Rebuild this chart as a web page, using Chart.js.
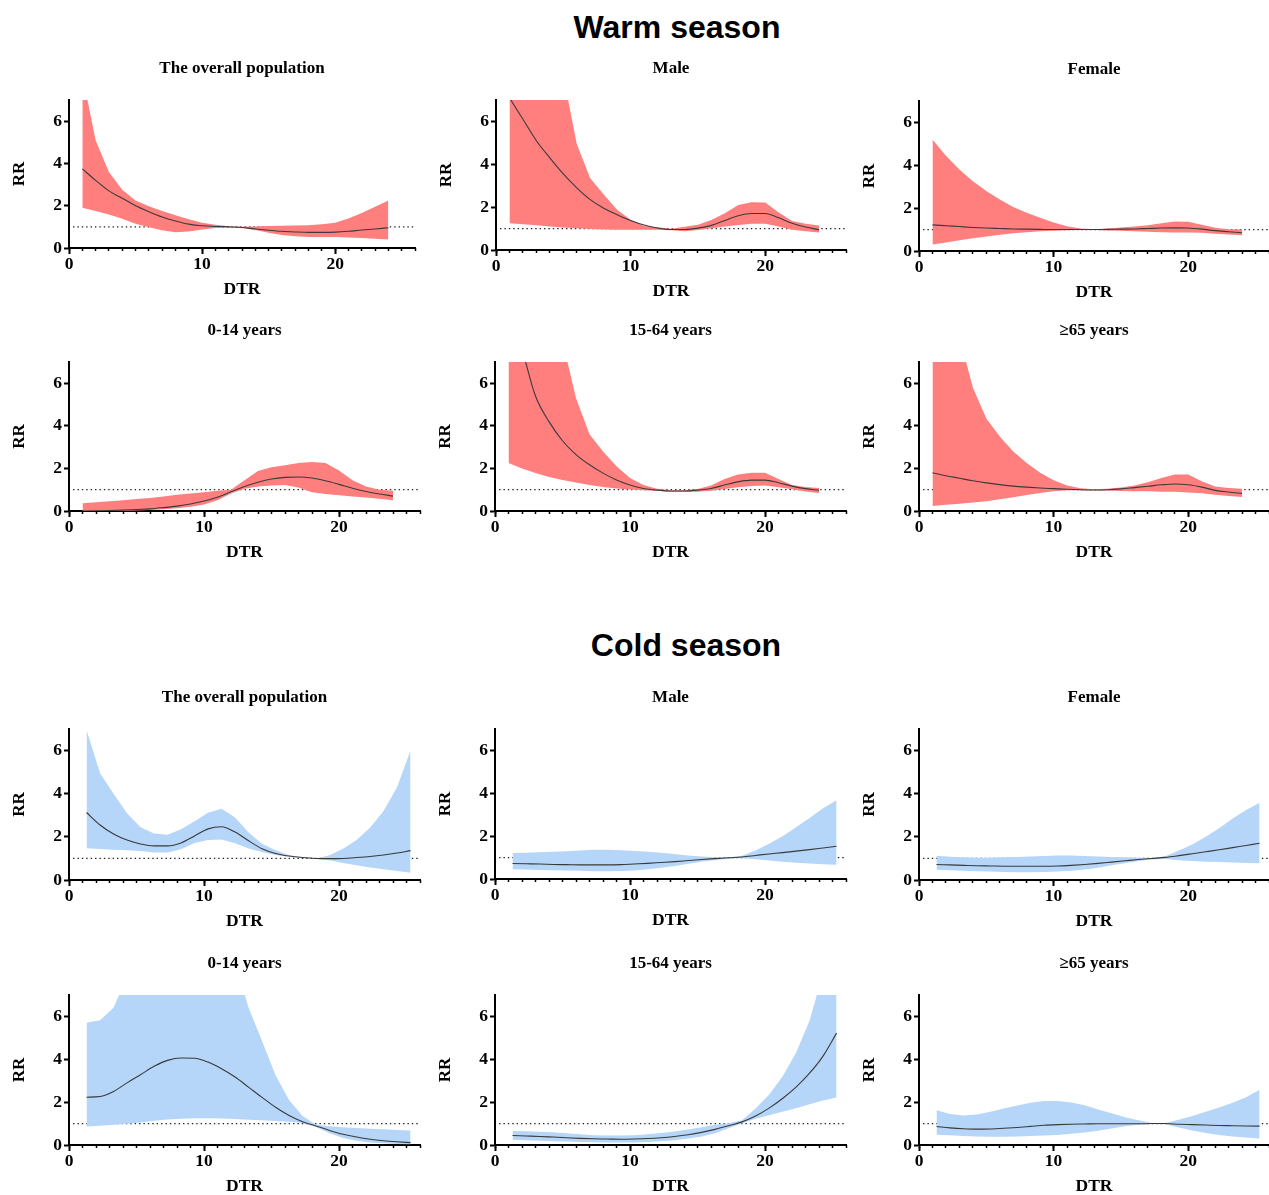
<!DOCTYPE html>
<html>
<head>
<meta charset="utf-8">
<script src="https://cdn.jsdelivr.net/npm/chart.js@4.4.0/dist/chart.umd.min.js"></script>
<style>
  html, body { margin: 0; padding: 0; background: #fff; }
  body { position: relative; width: 1269px; height: 1195px; overflow: hidden; }
  .season { position: absolute; width: 400px; text-align: center; font: bold 32px 'Liberation Sans', Arial, sans-serif; line-height: 38px; color: #000; }
  canvas { position: absolute; }
</style>
</head>
<body>
<div class="season" style="left:477px;top:8px">Warm season</div>
<div class="season" style="left:486px;top:626px">Cold season</div>
<script>
// DTR values where the curves were evaluated
const X_WARM = [1, 2, 3, 4, 5, 6, 7, 8, 9, 10, 11, 12, 13, 14, 15, 16, 17, 18, 19, 20, 21, 22, 23, 24];
const X_COLD = [1.3, 2.3, 3.3, 4.3, 5.3, 6.3, 7.3, 8.3, 9.3, 10.3, 11.3, 12.3, 13.3, 14.3, 15.3, 16.3, 17.3, 18.3, 19.3, 20.3, 21.3, 22.3, 23.3, 24.3, 25.3];
const X_TICKS = [0, 10, 20];
const X_MINOR = [0, 1, 2, 3, 4, 5, 6, 7, 8, 9, 10, 11, 12, 13, 14, 15, 16, 17, 18, 19, 20, 21, 22, 23, 24, 25, 26];
const Y_TICKS = [0, 2, 4, 6];
const REF_X = [0.3, 26];
const REF_Y = [1, 1];

// warm season
const WARM_ALL_RR = [3.74, 3.2, 2.7, 2.35, 2.0, 1.72, 1.47, 1.28, 1.13, 1.05, 1.02, 1.0, 0.97, 0.9, 0.84, 0.79, 0.76, 0.74, 0.74, 0.75, 0.79, 0.85, 0.9, 0.96];
const WARM_ALL_HI = [8.2, 5.1, 3.6, 2.75, 2.25, 1.97, 1.75, 1.55, 1.36, 1.2, 1.1, 1.03, 1.0, 1.02, 1.04, 1.05, 1.06, 1.08, 1.12, 1.2, 1.4, 1.66, 1.95, 2.25];
const WARM_ALL_LO = [1.9, 1.75, 1.58, 1.38, 1.15, 0.98, 0.84, 0.75, 0.78, 0.88, 0.95, 0.99, 0.95, 0.85, 0.72, 0.62, 0.56, 0.52, 0.52, 0.52, 0.5, 0.47, 0.44, 0.4];

const WARM_MALE_RR = [7.1, 6.1, 5.1, 4.3, 3.55, 2.9, 2.35, 1.95, 1.65, 1.38, 1.17, 1.03, 0.96, 0.96, 1.02, 1.15, 1.38, 1.6, 1.7, 1.7, 1.5, 1.25, 1.07, 0.95];
const WARM_MALE_HI = [25, 17, 13, 10, 8.15, 4.95, 3.35, 2.59, 1.88, 1.41, 1.12, 1.06, 0.99, 1.08, 1.18, 1.4, 1.72, 2.1, 2.23, 2.22, 1.75, 1.35, 1.22, 1.14];
const WARM_MALE_LO = [1.25, 1.2, 1.15, 1.1, 1.05, 1.01, 0.98, 0.96, 0.95, 0.95, 0.95, 0.95, 0.92, 0.87, 0.93, 1.02, 1.1, 1.17, 1.22, 1.22, 1.1, 0.95, 0.88, 0.82];

const WARM_FEMALE_RR = [1.22, 1.18, 1.14, 1.1, 1.07, 1.05, 1.03, 1.02, 1.01, 1.0, 1.0, 1.0, 1.0, 1.01, 1.02, 1.03, 1.05, 1.07, 1.08, 1.07, 1.02, 0.95, 0.9, 0.85];
const WARM_FEMALE_HI = [5.2, 4.45, 3.8, 3.25, 2.8, 2.4, 2.05, 1.78, 1.55, 1.33, 1.15, 1.05, 1.01, 1.05, 1.1, 1.14, 1.2, 1.3, 1.38, 1.36, 1.22, 1.08, 1.02, 1.0];
const WARM_FEMALE_LO = [0.3, 0.4, 0.5, 0.6, 0.68, 0.76, 0.83, 0.88, 0.92, 0.95, 0.97, 0.99, 0.98, 0.96, 0.94, 0.92, 0.9, 0.87, 0.86, 0.86, 0.85, 0.8, 0.77, 0.74];

const WARM_0_14_RR = [0.0, 0.01, 0.02, 0.04, 0.07, 0.1, 0.16, 0.23, 0.33, 0.47, 0.65, 0.9, 1.15, 1.35, 1.5, 1.58, 1.6, 1.55, 1.42, 1.25, 1.07, 0.92, 0.8, 0.7];
const WARM_0_14_HI = [0.36, 0.41, 0.46, 0.51, 0.56, 0.61, 0.68, 0.76, 0.82, 0.88, 0.95, 1.0, 1.45, 1.88, 2.05, 2.15, 2.25, 2.3, 2.25, 1.9, 1.45, 1.15, 1.0, 0.95];
const WARM_0_14_LO = [0.0, 0.0, 0.0, 0.0, 0.02, 0.05, 0.08, 0.13, 0.2, 0.3, 0.5, 0.82, 1.05, 1.15, 1.2, 1.22, 1.1, 0.88, 0.8, 0.74, 0.68, 0.63, 0.57, 0.5];

const WARM_15_64_RR = [9.5, 7.6, 5.4, 4.2, 3.3, 2.65, 2.17, 1.78, 1.46, 1.22, 1.06, 0.98, 0.94, 0.94, 0.98, 1.06, 1.22, 1.37, 1.45, 1.45, 1.33, 1.17, 1.05, 0.97];
const WARM_15_64_HI = [30, 20, 14, 10.5, 8.0, 5.3, 3.6, 2.8, 2.1, 1.55, 1.22, 1.04, 0.98, 0.98, 1.03, 1.2, 1.5, 1.72, 1.8, 1.8, 1.5, 1.22, 1.13, 1.08];
const WARM_15_64_LO = [2.25, 2.0, 1.78, 1.6, 1.46, 1.34, 1.22, 1.13, 1.06, 1.01, 0.98, 0.95, 0.91, 0.9, 0.9, 0.95, 1.03, 1.12, 1.18, 1.2, 1.12, 1.02, 0.92, 0.84];

const WARM_65_RR = [1.8, 1.66, 1.54, 1.42, 1.32, 1.24, 1.17, 1.12, 1.08, 1.05, 1.02, 1.0, 0.99, 1.0, 1.04, 1.1, 1.16, 1.23, 1.27, 1.23, 1.12, 0.97, 0.89, 0.83];
const WARM_65_HI = [14, 10.5, 8.2, 5.8, 4.35, 3.5, 2.8, 2.25, 1.8, 1.45, 1.2, 1.07, 1.02, 1.05, 1.1, 1.2, 1.35, 1.55, 1.72, 1.72, 1.4, 1.15, 1.08, 1.05];
const WARM_65_LO = [0.24, 0.29, 0.34, 0.4, 0.46, 0.55, 0.65, 0.75, 0.85, 0.93, 0.98, 0.98, 0.97, 0.96, 0.94, 0.93, 0.93, 0.91, 0.9, 0.87, 0.83, 0.76, 0.71, 0.66];

// cold season
const COLD_ALL_RR = [3.13, 2.55, 2.13, 1.85, 1.67, 1.58, 1.58, 1.72, 2.04, 2.37, 2.47, 2.22, 1.82, 1.45, 1.23, 1.11, 1.04, 1.0, 0.99, 1.0, 1.04, 1.09, 1.16, 1.25, 1.36];
const COLD_ALL_HI = [6.95, 4.95, 4.0, 3.1, 2.45, 2.15, 2.1, 2.35, 2.72, 3.12, 3.3, 2.9, 2.2, 1.68, 1.38, 1.15, 1.04, 1.0, 1.15, 1.45, 1.85, 2.42, 3.2, 4.3, 6.0];
const COLD_ALL_LO = [1.47, 1.44, 1.4, 1.38, 1.35, 1.27, 1.27, 1.42, 1.72, 1.86, 1.88, 1.7, 1.46, 1.3, 1.16, 1.08, 1.03, 0.99, 0.91, 0.79, 0.68, 0.58, 0.5, 0.42, 0.34];

const COLD_MALE_RR = [0.72, 0.71, 0.7, 0.68, 0.67, 0.66, 0.66, 0.66, 0.67, 0.7, 0.73, 0.77, 0.81, 0.86, 0.91, 0.95, 0.99, 1.03, 1.1, 1.17, 1.23, 1.3, 1.37, 1.45, 1.53];
const COLD_MALE_HI = [1.21, 1.23, 1.25, 1.27, 1.3, 1.33, 1.36, 1.36, 1.34, 1.31, 1.27, 1.22, 1.17, 1.1, 1.05, 1.01, 1.0, 1.08, 1.33, 1.65, 2.0, 2.42, 2.85, 3.3, 3.68];
const COLD_MALE_LO = [0.46, 0.44, 0.42, 0.41, 0.4, 0.38, 0.36, 0.36, 0.37, 0.4, 0.45, 0.53, 0.61, 0.71, 0.8, 0.89, 0.95, 0.98, 0.92, 0.86, 0.8, 0.76, 0.72, 0.69, 0.66];

const COLD_FEMALE_RR = [0.72, 0.7, 0.68, 0.66, 0.65, 0.64, 0.64, 0.64, 0.64, 0.65, 0.68, 0.72, 0.77, 0.83, 0.89, 0.95, 1.0, 1.05, 1.13, 1.22, 1.31, 1.4, 1.5, 1.6, 1.7];
const COLD_FEMALE_HI = [1.12, 1.08, 1.05, 1.03, 1.03, 1.05, 1.07, 1.09, 1.11, 1.13, 1.13, 1.11, 1.09, 1.07, 1.05, 1.03, 1.01, 1.1, 1.37, 1.65, 2.0, 2.4, 2.85, 3.25, 3.58];
const COLD_FEMALE_LO = [0.47, 0.45, 0.43, 0.41, 0.39, 0.37, 0.36, 0.36, 0.37, 0.39, 0.43, 0.49, 0.57, 0.68, 0.78, 0.88, 0.95, 0.97, 0.92, 0.88, 0.85, 0.83, 0.81, 0.79, 0.78];

const COLD_0_14_RR = [2.23, 2.26, 2.5, 2.9, 3.28, 3.67, 3.95, 4.06, 4.05, 3.87, 3.56, 3.17, 2.7, 2.22, 1.76, 1.38, 1.09, 0.89, 0.68, 0.5, 0.37, 0.27, 0.2, 0.15, 0.11];
const COLD_0_14_HI = [5.7, 5.82, 6.4, 7.85, 9.5, 10.5, 11, 11.5, 11.5, 11, 10, 8.6, 6.4, 4.85, 3.25, 2.1, 1.35, 0.95, 0.88, 0.83, 0.79, 0.76, 0.73, 0.7, 0.68];
const COLD_0_14_LO = [0.86, 0.9, 0.94, 0.99, 1.05, 1.13, 1.19, 1.23, 1.25, 1.25, 1.24, 1.21, 1.18, 1.15, 1.12, 1.08, 1.03, 0.84, 0.55, 0.33, 0.2, 0.12, 0.08, 0.05, 0.04];

const COLD_15_64_RR = [0.44, 0.42, 0.4, 0.37, 0.34, 0.31, 0.29, 0.28, 0.27, 0.28, 0.3, 0.34, 0.4, 0.48, 0.59, 0.73, 0.9, 1.08, 1.35, 1.72, 2.17, 2.7, 3.35, 4.15, 5.22];
const COLD_15_64_HI = [0.65, 0.64, 0.62, 0.59, 0.55, 0.5, 0.46, 0.44, 0.44, 0.46, 0.5, 0.56, 0.63, 0.72, 0.83, 0.95, 1.02, 1.15, 1.7, 2.35, 3.2, 4.3, 5.8, 8.0, 10.5];
const COLD_15_64_LO = [0.24, 0.22, 0.2, 0.18, 0.16, 0.14, 0.13, 0.12, 0.12, 0.12, 0.14, 0.17, 0.22, 0.3, 0.4, 0.55, 0.78, 1.02, 1.23, 1.39, 1.55, 1.72, 1.9, 2.08, 2.22];

const COLD_65_RR = [0.86, 0.8, 0.76, 0.74, 0.75, 0.78, 0.82, 0.87, 0.92, 0.95, 0.97, 0.98, 0.99, 0.99, 0.99, 0.99, 1.0, 1.0, 0.97, 0.95, 0.93, 0.91, 0.9, 0.89, 0.88];
const COLD_65_HI = [1.62, 1.45, 1.38, 1.42, 1.55, 1.7, 1.84, 1.97, 2.05, 2.05, 1.98, 1.85, 1.66, 1.48, 1.3, 1.15, 1.03, 1.03, 1.18, 1.35, 1.55, 1.75, 1.97, 2.23, 2.58];
const COLD_65_LO = [0.48, 0.45, 0.42, 0.4, 0.39, 0.39, 0.4, 0.42, 0.44, 0.47, 0.52, 0.58, 0.67, 0.77, 0.87, 0.95, 0.99, 0.97, 0.82, 0.68, 0.56, 0.47, 0.4, 0.35, 0.3];

const WARM_FILL = '#FF7F7F';
const COLD_FILL = '#B5D5F9';
const LINE = '#3a3a3a';

const PANELS = [
  { title: 'The overall population', x: X_WARM, rr: WARM_ALL_RR, hi: WARM_ALL_HI, lo: WARM_ALL_LO, fill: WARM_FILL },
  { title: 'Male', x: X_WARM, rr: WARM_MALE_RR, hi: WARM_MALE_HI, lo: WARM_MALE_LO, fill: WARM_FILL },
  { title: 'Female', x: X_WARM, rr: WARM_FEMALE_RR, hi: WARM_FEMALE_HI, lo: WARM_FEMALE_LO, fill: WARM_FILL },
  { title: '0-14 years', x: X_WARM, rr: WARM_0_14_RR, hi: WARM_0_14_HI, lo: WARM_0_14_LO, fill: WARM_FILL },
  { title: '15-64 years', x: X_WARM, rr: WARM_15_64_RR, hi: WARM_15_64_HI, lo: WARM_15_64_LO, fill: WARM_FILL },
  { title: '≥65 years', x: X_WARM, rr: WARM_65_RR, hi: WARM_65_HI, lo: WARM_65_LO, fill: WARM_FILL },
  { title: 'The overall population', x: X_COLD, rr: COLD_ALL_RR, hi: COLD_ALL_HI, lo: COLD_ALL_LO, fill: COLD_FILL },
  { title: 'Male', x: X_COLD, rr: COLD_MALE_RR, hi: COLD_MALE_HI, lo: COLD_MALE_LO, fill: COLD_FILL },
  { title: 'Female', x: X_COLD, rr: COLD_FEMALE_RR, hi: COLD_FEMALE_HI, lo: COLD_FEMALE_LO, fill: COLD_FILL },
  { title: '0-14 years', x: X_COLD, rr: COLD_0_14_RR, hi: COLD_0_14_HI, lo: COLD_0_14_LO, fill: COLD_FILL },
  { title: '15-64 years', x: X_COLD, rr: COLD_15_64_RR, hi: COLD_15_64_HI, lo: COLD_15_64_LO, fill: COLD_FILL },
  { title: '≥65 years', x: X_COLD, rr: COLD_65_RR, hi: COLD_65_HI, lo: COLD_65_LO, fill: COLD_FILL },
];

// plot frames on the page: [y-axis x, x-axis right end, top of plot, bottom of plot]
const FRAMES = [
  [69, 415, 100, 248], [496, 846, 100, 250], [919, 1269, 101, 251],
  [69, 420, 362, 511], [495, 846, 362, 511], [919, 1269, 362, 511],
  [69, 420, 729, 880], [495, 846, 729, 879], [919, 1269, 729, 880],
  [69, 420, 995, 1145], [495, 846, 995, 1145], [919, 1269, 995, 1145],
];

const YW = 64;   // width of the y scale (ticks + labels + title)
const TH = 45;   // height of the panel title block
const XH = 56;   // height of the x scale
const RP = 6;    // right padding

Chart.defaults.font.family = "'Liberation Serif', 'Times New Roman', 'Noto Sans CJK SC', serif";
Chart.defaults.color = '#000';

const pts = (xs, ys) => xs.map((x, i) => ({ x: x, y: ys[i] }));
const tickList = (list) => (scale) => { scale.ticks = list.map(v => ({ value: v })); };

function drawPanel(p, frame) {
  const [ax, right, top, bottom] = frame;
  const w = YW + (right - ax) + RP;
  const h = TH + (bottom - top) + XH;
  const cv = document.createElement('canvas');
  cv.width = w;
  cv.height = h;
  cv.style.left = (ax - YW) + 'px';
  cv.style.top = (top - TH) + 'px';
  cv.style.width = w + 'px';
  cv.style.height = h + 'px';
  document.body.appendChild(cv);

  new Chart(cv, {
    type: 'line',
    data: {
      datasets: [
        { data: pts(p.x, p.rr), xAxisID: 'x', borderColor: LINE, borderWidth: 1.1, pointRadius: 0, cubicInterpolationMode: 'monotone', fill: false },
        { data: pts(p.x, p.hi), xAxisID: 'x', borderWidth: 0, pointRadius: 0, backgroundColor: p.fill, fill: '+1' },
        { data: pts(p.x, p.lo), xAxisID: 'x', borderWidth: 0, pointRadius: 0, fill: false },
        { data: pts(REF_X, REF_Y), xAxisID: 'x', borderColor: '#222', borderWidth: 1.2, borderDash: [1.4, 3], pointRadius: 0, fill: false },
      ]
    },
    options: {
      responsive: false,
      animation: false,
      events: [],
      layout: { padding: { right: RP } },
      plugins: {
        legend: { display: false },
        tooltip: { enabled: false },
        title: {
          display: true, text: p.title, fullSize: false, color: '#000',
          font: { size: 17, weight: 'bold' },
          padding: { top: 3.5, bottom: 21.1 }
        }
      },
      scales: {
        xMinor: {
          type: 'linear', position: 'bottom', min: 0, max: 26, weight: 0,
          afterBuildTicks: tickList(X_MINOR),
          afterFit: (s) => { s.height = 0; },
          ticks: { display: false },
          border: { display: false },
          grid: { drawOnChartArea: false, tickLength: 3, tickWidth: 1.5, color: '#000' }
        },
        x: {
          type: 'linear', position: 'bottom', min: 0, max: 26, weight: 1,
          afterBuildTicks: tickList(X_TICKS),
          afterFit: (s) => { s.height = XH; },
          ticks: { color: '#000', font: { size: 17.5, weight: 'bold' }, padding: 0, maxRotation: 0, autoSkip: false },
          border: { color: '#000', width: 2 },
          grid: { drawOnChartArea: false, tickLength: 6, tickWidth: 2, color: '#000' },
          title: { display: true, text: 'DTR', color: '#000', font: { size: 17.5, weight: 'bold' }, padding: { top: 0, bottom: 4 } }
        },
        y: {
          type: 'linear', position: 'left', min: 0, max: 7,
          afterBuildTicks: tickList(Y_TICKS),
          afterFit: (s) => { s.width = YW; },
          ticks: { color: '#000', font: { size: 17.5, weight: 'bold' }, padding: 2 },
          border: { color: '#000', width: 2 },
          grid: { drawOnChartArea: false, tickLength: 5, tickWidth: 2, color: '#000' },
          title: { display: true, text: 'RR', color: '#000', font: { size: 17, weight: 'bold' }, padding: { top: 4, bottom: 4 } }
        }
      }
    }
  });
}

PANELS.forEach((p, i) => drawPanel(p, FRAMES[i]));
</script>
</body>
</html>
